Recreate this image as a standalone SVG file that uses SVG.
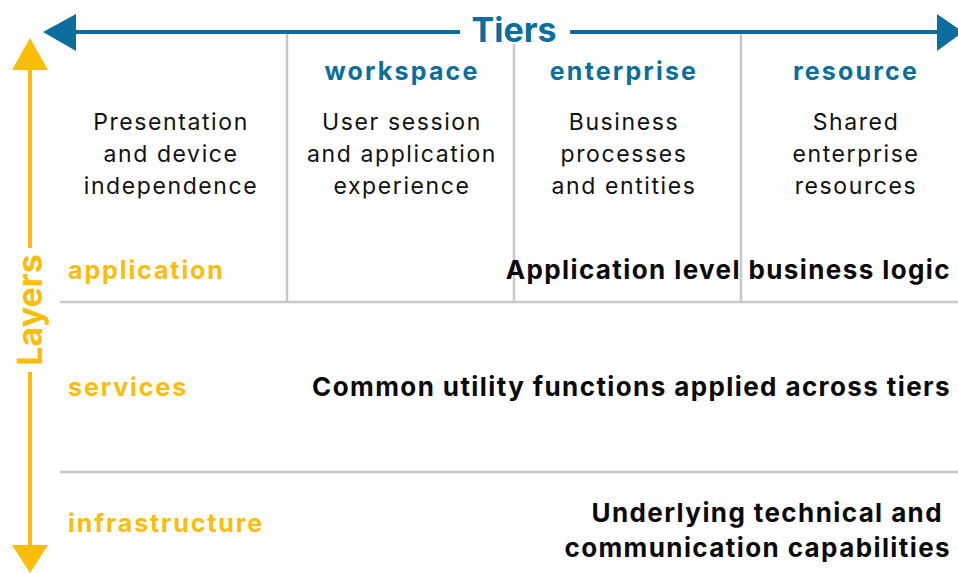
<svg xmlns="http://www.w3.org/2000/svg" width="958" height="573" viewBox="0 0 958 573">
<style>
.grid{stroke:#c8c8c8;stroke-width:2.5;fill:none}
text{font-family:Inter,"Liberation Sans",Arial,sans-serif}
.tier{font-weight:bold;font-size:25px;fill:#0b6e9c;text-anchor:middle;letter-spacing:2.2px}
.desc{font-size:23px;fill:#111;text-anchor:middle;letter-spacing:1.6px}
.layer{font-weight:bold;font-size:25px;fill:#fbbd08;letter-spacing:1.9px}
.logic{font-weight:bold;font-size:26px;fill:#0a0a0a;text-anchor:end;letter-spacing:1.4px}
.axisT{font-weight:bold;font-size:34px;fill:#0b6e9c;text-anchor:middle}
.axisL{font-weight:bold;font-size:34px;fill:#fbbd08;text-anchor:middle}
</style>
<rect width="958" height="573" fill="#fff"/>
<g id="grid">
<line class="grid" x1="287" y1="33" x2="287" y2="302"/>
<line class="grid" x1="514" y1="33" x2="514" y2="302"/>
<line class="grid" x1="741" y1="33" x2="741" y2="302"/>
<line class="grid" x1="60" y1="302" x2="958" y2="302"/>
<line class="grid" x1="60" y1="472" x2="958" y2="472"/>
</g>
<g id="connectors">
<g id="tiers-axis">
<line x1="70" y1="32" x2="942" y2="32" stroke="#0b6e9c" stroke-width="4"/>
<polygon points="43,32 76,14 76,51" fill="#0b6e9c"/>
<polygon points="963,32 937,14 937,51" fill="#0b6e9c"/>
<rect x="460" y="12" width="110" height="32" fill="#fff"/>
<text class="axisT" x="514" y="42">Tiers</text>
</g>
<g id="layers-axis">
<line x1="30" y1="65" x2="30" y2="548" stroke="#fbbd08" stroke-width="4"/>
<polygon points="30,38 12,70 48,70" fill="#fbbd08"/>
<polygon points="30,573 12,545 48,545" fill="#fbbd08"/>
<rect x="12" y="248" width="36" height="124" fill="#fff"/>
<text class="axisL" transform="translate(42,310) rotate(-90)">Layers</text>
</g>
</g>
<g id="tier-presentation">
<text class="desc" x="171" y="130">Presentation</text>
<text class="desc" x="171" y="162">and device</text>
<text class="desc" x="171" y="194">independence</text>
</g>
<g id="tier-workspace">
<text class="tier" x="402" y="80">workspace</text>
<text class="desc" x="402" y="130">User session</text>
<text class="desc" x="402" y="162">and application</text>
<text class="desc" x="402" y="194">experience</text>
</g>
<g id="tier-enterprise">
<text class="tier" x="624" y="80">enterprise</text>
<text class="desc" x="624" y="130">Business</text>
<text class="desc" x="624" y="162">processes</text>
<text class="desc" x="624" y="194">and entities</text>
</g>
<g id="tier-resource">
<text class="tier" x="856" y="80">resource</text>
<text class="desc" x="856" y="130">Shared</text>
<text class="desc" x="856" y="162">enterprise</text>
<text class="desc" x="856" y="194">resources</text>
</g>
<g id="layer-application">
<text class="layer" x="68" y="279">application</text>
<text class="logic" x="951" y="279">Application level business logic</text>
</g>
<g id="layer-services">
<text class="layer" x="68" y="396">services</text>
<text class="logic" x="951" y="396">Common utility functions applied across tiers</text>
</g>
<g id="layer-infrastructure">
<text class="layer" x="68" y="532">infrastructure</text>
<text class="logic" x="943" y="522">Underlying technical and</text>
<text class="logic" x="951" y="557">communication capabilities</text>
</g>
</svg>
